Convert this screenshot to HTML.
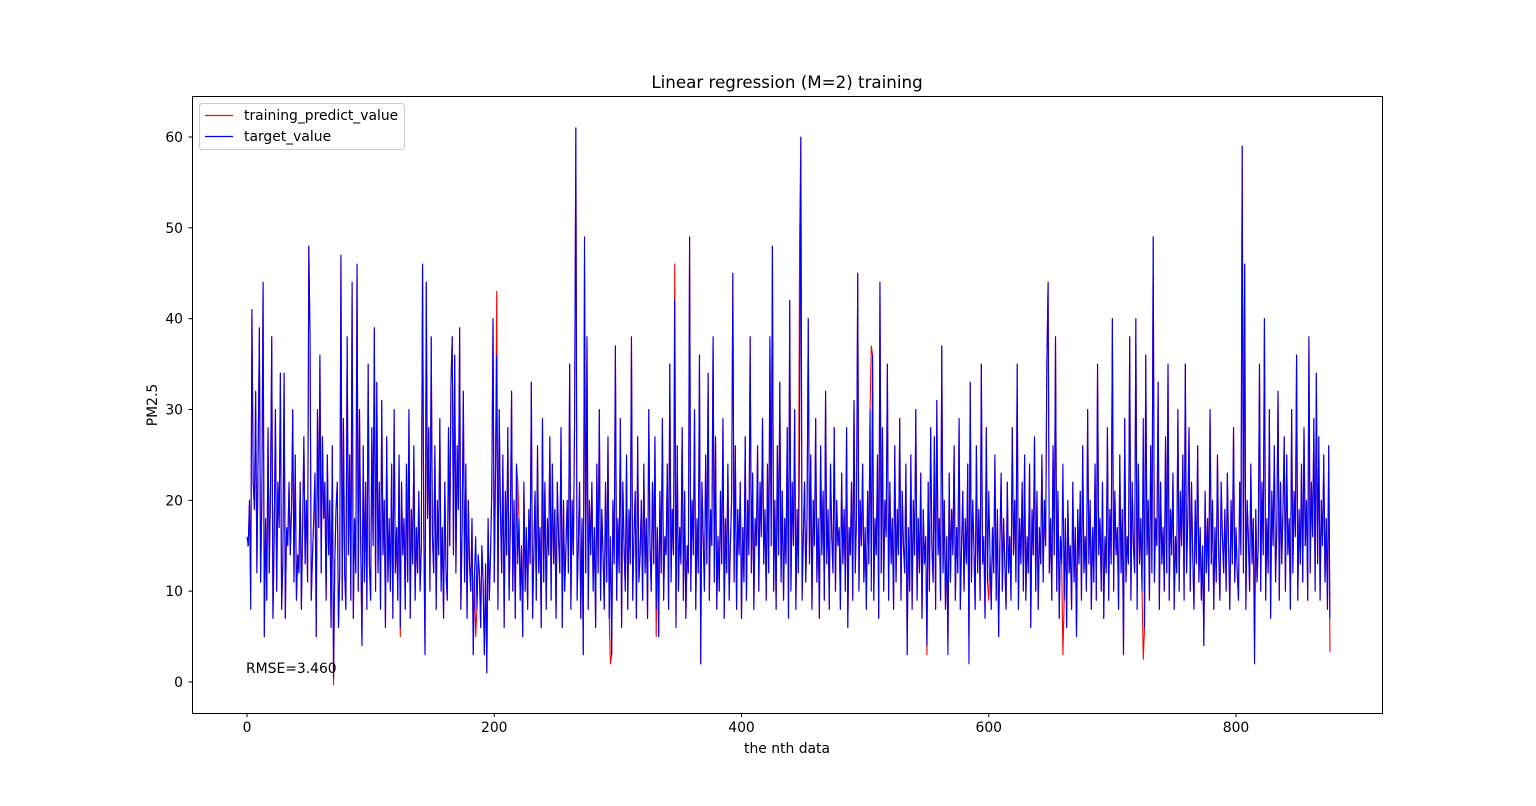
<!DOCTYPE html>
<html><head><meta charset="utf-8"><style>
body{margin:0;background:#fff;}
svg text{font-family:"DejaVu Sans","Liberation Sans",sans-serif;fill:#000;}
</style></head><body>
<svg id="chart" width="1536" height="801" xmlns="http://www.w3.org/2000/svg">
<rect width="1536" height="801" fill="#fff"/>
<g id="series"></g>
<rect x="192.5" y="96.5" width="1190" height="617" fill="none" stroke="#000" stroke-width="1"/>
<g id="axes"></g>
<text x="787" y="88" font-size="16.7" text-anchor="middle">Linear regression (M=2) training</text>
<text x="787" y="753" font-size="13.9" text-anchor="middle">the nth data</text>
<text transform="translate(157,405) rotate(-90)" font-size="13.9" text-anchor="middle">PM2.5</text>
<text x="246" y="673" font-size="13.9">RMSE=3.460</text>
<g>
<rect x="199.5" y="103.5" width="205" height="46" rx="3" fill="#fff" fill-opacity="0.8" stroke="#ccc"/>
<line x1="205" y1="115.5" x2="233" y2="115.5" stroke="#f00" stroke-width="1.2"/>
<text x="244" y="120" font-size="13.9">training_predict_value</text>
<line x1="205" y1="136.5" x2="233" y2="136.5" stroke="#00f" stroke-width="1.2"/>
<text x="244" y="141" font-size="13.9">target_value</text>
</g>
</svg>
<script>
const targetValues=[16,15,20,8,41,22,19,32,12,25,39,11,20,44,5,18,9,28,12,21,
38,7,16,30,10,22,17,34,8,13,34,7,17,15,22,14,19,30,11,25,
9,14,12,22,8,17,27,13,20,11,48,38,9,14,18,23,5,30,17,36,
12,27,18,22,9,25,14,20,6,26,0.5,13,19,22,6,12,47,9,29,12,
8,38,14,25,9,44,7,18,12,46,10,30,15,4,26,11,22,8,35,13,
9,28,15,39,10,33,12,22,8,31,14,20,6,27,11,18,10,24,7,30,
12,17,9,25,6,22,14,18,8,24,11,30,7,19,13,26,9,17,12,21,
10,15,46,17,3,44,18,28,10,38,16,12,26,8,20,14,29,10,17,7,
22,12,9,28,15,33,38,14,36,12,26,19,39,8,17,32,11,24,7,20,
13,10,18,3,12,16,8,14,12,6,15,11,3,13,1,18,9,14,21,40,
11,23,36,8,30,19,12,25,6,21,14,28,9,17,32,10,20,7,24,13,
18,9,15,5,22,10,17,8,19,13,33,7,14,21,9,26,12,17,6,29,
11,22,8,18,14,27,9,24,13,19,7,22,16,12,28,6,20,10,15,20,
12,35,8,20,14,29,61,9,15,22,7,18,3,49,12,38,8,20,14,22,
10,17,6,24,12,30,9,19,14,8,22,11,27,7,16,3,20,13,37,9,
18,12,29,6,22,15,10,25,8,19,13,38,9,16,21,7,27,11,14,20,
9,24,12,18,7,30,15,10,22,13,27,8,17,5,21,12,29,9,16,14,
24,8,35,11,19,14,42,6,26,10,17,13,28,9,21,7,15,12,49,10,
20,14,30,8,18,12,36,2,22,16,10,25,13,34,9,19,15,38,11,27,
8,16,10,21,13,29,7,18,12,24,9,15,20,45,11,26,8,19,14,22,
7,17,11,27,9,20,14,38,12,23,8,18,15,26,10,22,16,29,13,19,
9,24,12,38,15,48,10,20,8,26,14,33,11,21,9,18,13,28,7,42,
10,22,15,30,8,19,12,27,60,9,16,22,11,18,40,13,25,8,20,15,
29,11,18,7,26,14,21,9,32,13,19,8,24,16,12,28,10,20,15,17,
8,23,13,19,10,28,6,17,14,22,9,31,12,18,45,10,20,15,24,11,
17,8,21,13,30,10,36,9,18,14,25,7,44,12,28,10,20,16,35,9,
22,13,18,8,26,11,19,14,29,9,21,15,12,24,3,17,10,25,8,20,
14,30,9,18,12,23,7,19,13,16,4,22,10,28,15,11,27,8,31,14,
18,9,37,12,20,8,16,3,23,11,19,14,26,9,17,12,29,8,15,21,
10,18,13,24,2,33,11,20,15,8,26,12,19,9,35,13,16,7,28,11,
21,14,8,17,12,25,9,19,5,15,23,10,18,13,8,22,12,16,9,28,
14,20,11,35,8,18,13,22,10,25,9,16,12,24,6,19,14,27,10,21,
8,17,13,25,11,20,15,35,44,12,18,9,26,14,38,10,21,7,16,13,
24,9,18,6,20,12,15,8,22,11,17,5,19,13,21,9,26,12,16,10,
30,13,20,8,17,11,24,9,35,14,18,10,22,7,16,12,28,9,19,13,
40,10,21,14,17,8,25,12,19,3,29,11,16,13,38,9,22,15,12,40,
8,24,13,18,10,29,6,36,14,20,9,26,12,49,11,18,15,33,8,22,
13,17,10,27,12,35,9,19,14,23,8,16,12,30,10,21,15,25,9,35,
12,18,28,10,22,14,8,20,13,26,11,17,9,15,4,21,12,18,10,30,
13,20,8,17,11,25,14,9,22,16,12,19,10,23,15,8,20,13,28,11,
17,12,9,22,14,59,12,46,8,20,16,10,24,13,18,2,19,11,15,35,
10,22,14,40,9,18,12,30,7,21,15,26,11,17,32,9,22,13,19,27,
10,25,14,18,8,30,12,21,16,36,9,19,13,24,11,28,15,20,9,38,
12,22,16,29,10,34,13,27,9,20,15,25,11,18,8,26,7];
const predOverrideIndex=[0,3,70,124,185,202,219,273,294,331,346,395,447,505,550,567,584,600,660,725,815,876];
const predOverrideValue=[15,10,-0.3,5,5,43,22,46,2,5,46,26,49,37,3,4,5,9,3,2.5,4.5,3.3];
const xTicks=[0,200,400,600,800];
const yTicks=[0,10,20,30,40,50,60];

const NS="http://www.w3.org/2000/svg";
const xs=v=>247+v*(1236-247)/800;
const ys=v=>682-v*(682-137)/60;
const predicted=targetValues.slice();
predOverrideIndex.forEach((i,k)=>{predicted[i]=predOverrideValue[k];});

const series=document.getElementById('series');
function drawLine(vals,color,name){
  const p=document.createElementNS(NS,'polyline');
  p.setAttribute('points',vals.map((v,i)=>xs(i).toFixed(2)+','+ys(v).toFixed(2)).join(' '));
  p.setAttribute('fill','none');p.setAttribute('stroke',color);p.setAttribute('stroke-width','1.1');
  p.setAttribute('stroke-linejoin','round');
  
  
  series.appendChild(p);
}
drawLine(predicted,'#f00','training-predict-line');
drawLine(targetValues,'#00f','target-value-line');

const axes=document.getElementById('axes');
xTicks.forEach(t=>{
  const x=xs(t);
  const l=document.createElementNS(NS,'line');
  l.setAttribute('x1',x);l.setAttribute('x2',x);l.setAttribute('y1',713.5);l.setAttribute('y2',717);l.setAttribute('stroke','#000');
  
  
  axes.appendChild(l);
  const tx=document.createElementNS(NS,'text');
  tx.setAttribute('x',x);tx.setAttribute('y',732);tx.setAttribute('font-size','13.9');tx.setAttribute('text-anchor','middle');
  tx.textContent=t;
  
  
  axes.appendChild(tx);
});
yTicks.forEach(t=>{
  const y=ys(t);
  const l=document.createElementNS(NS,'line');
  l.setAttribute('x1',188.5);l.setAttribute('x2',192.5);l.setAttribute('y1',y);l.setAttribute('y2',y);l.setAttribute('stroke','#000');
  
  
  axes.appendChild(l);
  const tx=document.createElementNS(NS,'text');
  tx.setAttribute('x',183);tx.setAttribute('y',y+5);tx.setAttribute('font-size','13.9');tx.setAttribute('text-anchor','end');
  tx.textContent=t;
  
  
  axes.appendChild(tx);
});
</script>
</body></html>
